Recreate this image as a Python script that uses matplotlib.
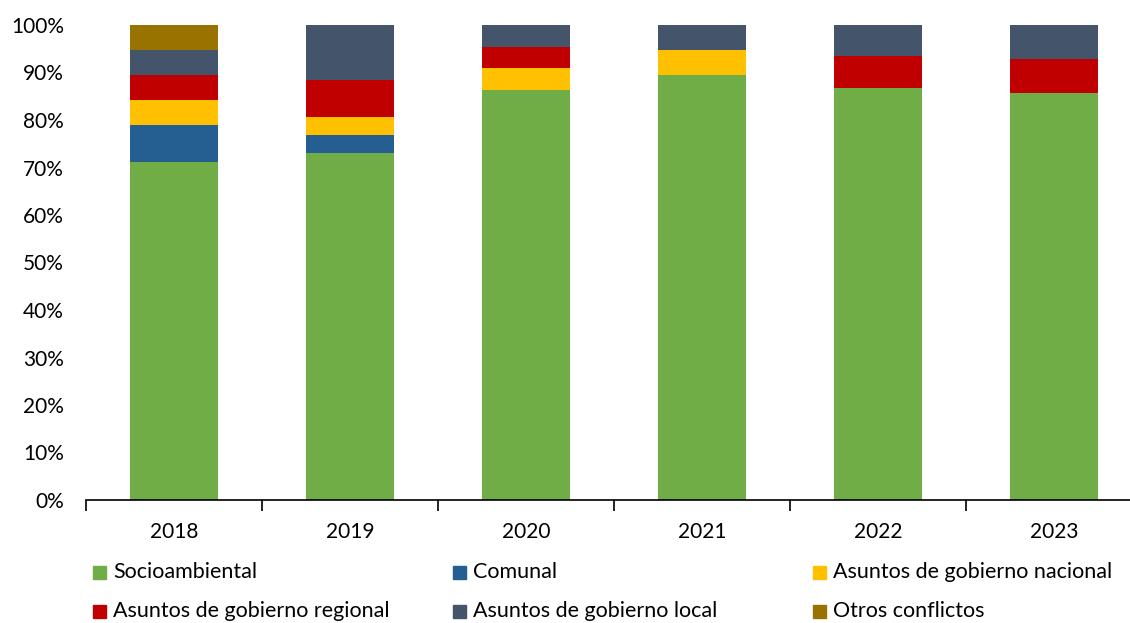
import numpy as np
import matplotlib.pyplot as plt
from matplotlib.patches import Rectangle

plt.rcParams['font.family'] = ['Lato', 'DejaVu Sans']

# data (% of conflicts per year)
years = ['2018', '2019', '2020', '2021', '2022', '2023']
socioambiental = [71.1, 73.1, 86.4, 89.5, 86.7, 85.7]
comunal = [7.9, 3.8, 0.0, 0.0, 0.0, 0.0]
gob_nacional = [5.3, 3.8, 4.5, 5.3, 0.0, 0.0]
gob_regional = [5.1, 7.7, 4.5, 0.0, 6.7, 7.1]
gob_local = [5.3, 11.6, 4.6, 5.2, 6.6, 7.2]
otros = [5.3, 0.0, 0.0, 0.0, 0.0, 0.0]

labels = ['Socioambiental', 'Comunal', 'Asuntos de gobierno nacional',
          'Asuntos de gobierno regional', 'Asuntos de gobierno local', 'Otros conflictos']
colors = ['#70AD47', '#255E91', '#FFC000', '#C00000', '#44546A', '#997300']
series = [socioambiental, comunal, gob_nacional, gob_regional, gob_local, otros]

W, H = 1130, 623
fig = plt.figure(figsize=(W / 100, H / 100), dpi=100)
ax = fig.add_axes([86 / W, 123 / H, 1056 / W, 475 / H])

x = np.arange(len(years))
bottom = np.zeros(len(years))
for vals, lab, col in zip(series, labels, colors):
    ax.bar(x, vals, 0.5, bottom=bottom, color=col, label=lab)
    bottom += np.array(vals)

ax.set_xlim(-0.5, len(years) - 0.5)
ax.set_ylim(0, 100)
ax.set_yticks(np.arange(0, 101, 10))
ax.set_yticklabels([f'{v}%' for v in range(0, 101, 10)])
ax.set_xticks(x)
ax.set_xticklabels(years)
ax.set_xticks(np.arange(-0.5, len(years), 1), minor=True)
ax.tick_params(axis='x', which='major', length=0, pad=16, labelsize=15)
ax.tick_params(axis='x', which='minor', length=8, width=1.2, direction='out')
ax.tick_params(axis='y', length=0, pad=16, labelsize=15)
for s in ['top', 'right', 'left']:
    ax.spines[s].set_visible(False)
ax.spines['bottom'].set_linewidth(1.2)

# legend, 3 columns x 2 rows
col_x = [93, 453, 813]
row_y = [572, 611]
for i, (lab, col) in enumerate(zip(labels, colors)):
    cx = col_x[i % 3]
    cy = row_y[i // 3]
    fig.add_artist(Rectangle((cx / W, (H - cy - 6.5) / H), 13 / W, 13 / H,
                             color=col, transform=fig.transFigure))
    fig.text((cx + 20) / W, (H - cy) / H, lab, fontsize=15.5, va='center', ha='left')

fig.savefig('out.png', dpi=100)
